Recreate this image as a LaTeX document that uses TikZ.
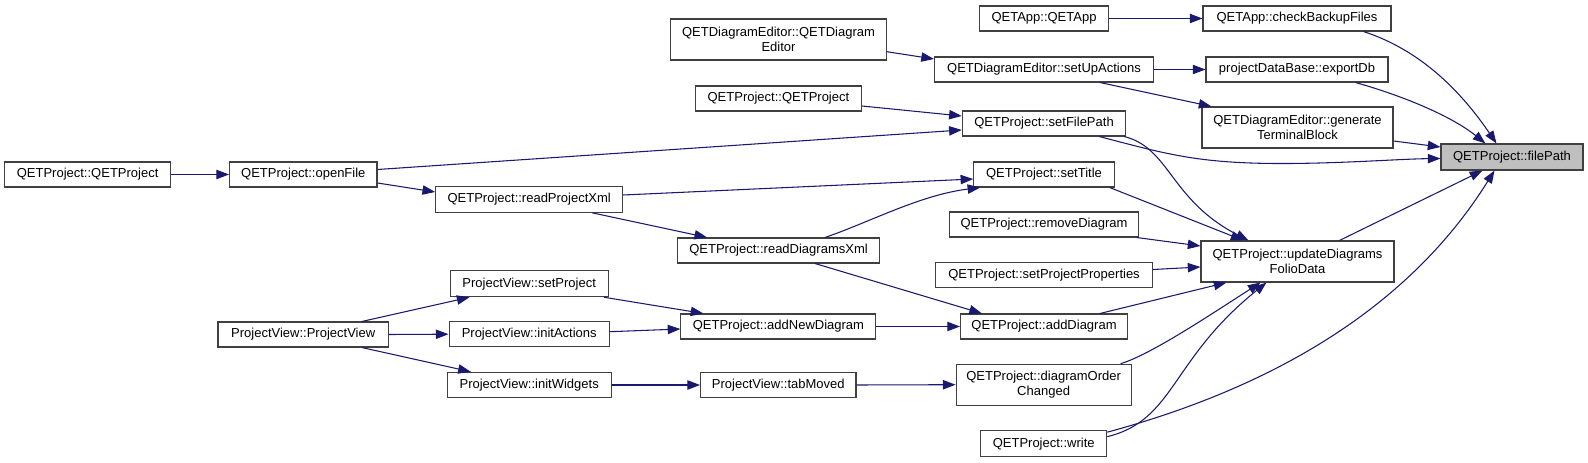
\documentclass[tikz,border=0pt]{standalone}
\usepackage{fontspec}
\setmainfont{Liberation Sans}
\usetikzlibrary{arrows.meta}
\definecolor{edgec}{HTML}{191970}
\definecolor{boxc}{HTML}{404040}
\definecolor{hlfill}{HTML}{BFBFBF}
\begin{document}
\begin{tikzpicture}[x=0.75pt,y=-0.75pt,
  box/.style={draw=boxc, line width=0.8pt, fill=white, inner sep=0pt, text=black,
    font=\fontsize{9.75}{11.5}\selectfont, align=center},
  wh/.style 2 args={minimum width=#1*0.75pt, minimum height=#2*0.75pt},
  edge/.style={draw=edgec, line width=0.8pt, -{Triangle[length=9.5pt,width=7pt]}},
]
\useasboundingbox (0,0) rectangle (1588,463);
% rank 0
\node[box, wh={142}{26}, fill=hlfill] (fp) at (1512,157) {QETProject::filePath};
% rank 1
\node[box, wh={188}{25}] (cbf) at (1297,18.5) {QETApp::checkBackupFiles};
\node[box, wh={182}{25}] (edb) at (1297,69.5) {projectDataBase::exportDb};
\node[box, wh={191}{41}] (gtb) at (1297.5,127.5) {QETDiagramEditor::generate\\TerminalBlock};
\node[box, wh={193}{41}] (udf) at (1297.5,261.5) {QETProject::updateDiagrams\\FolioData};
% rank 2
\node[box, wh={128.6}{25}] (qapp) at (1044,18.5) {QETApp::QETApp};
\node[box, wh={219}{25}] (sua) at (1044,69.5) {QETDiagramEditor::setUpActions};
\node[box, wh={163.4}{25}] (sfp) at (1044,123.5) {QETProject::setFilePath};
\node[box, wh={140.4}{25}] (stt) at (1044,174.5) {QETProject::setTitle};
\node[box, wh={188.3}{25}] (rmd) at (1044,224.5) {QETProject::removeDiagram};
\node[box, wh={217}{25.5}] (spp) at (1044,275) {QETProject::setProjectProperties};
\node[box, wh={167}{25}] (add) at (1044,326.5) {QETProject::addDiagram};
\node[box, wh={175}{41}] (doc) at (1043.6,384.7) {QETProject::diagramOrder\\Changed};
\node[box, wh={126}{26}] (wr) at (1043.7,443.7) {QETProject::write};
% rank 3
\node[box, wh={215.5}{41}] (qde) at (778.5,39.5) {QETDiagramEditor::QETDiagram\\Editor};
\node[box, wh={166}{25}] (qp2) at (778.4,98.5) {QETProject::QETProject};
\node[box, wh={201.7}{25}] (rdx) at (778.5,250.5) {QETProject::readDiagramsXml};
\node[box, wh={195}{25}] (anw) at (778.4,326.5) {QETProject::addNewDiagram};
\node[box, wh={155.4}{25}] (tbm) at (778.3,385) {ProjectView::tabMoved};
% rank 4
\node[box, wh={187}{25.6}] (rpx) at (529.2,199.5) {QETProject::readProjectXml};
\node[box, wh={158.3}{26}] (spj) at (529.2,283.7) {ProjectView::setProject};
\node[box, wh={160.3}{25}] (ina) at (529.2,334.2) {ProjectView::initActions};
\node[box, wh={163.7}{25.4}] (inw) at (529.2,385) {ProjectView::initWidgets};
% rank 5
\node[box, wh={147.4}{25}] (opf) at (303.3,174.5) {QETProject::openFile};
\node[box, wh={170.4}{25}] (pvw) at (303.2,334.5) {ProjectView::ProjectView};
% rank 6
\node[box, wh={166}{25}] (qp1) at (87.6,174.5) {QETProject::QETProject};

% edges
\draw[edge] (qp1.east) -- (opf.west);
\draw[edge] ([shift={(0,-5)}]opf.east) -- ([shift={(0,6.5)}]sfp.west);
\draw[edge] ([shift={(0,8.5)}]opf.east) -- ([shift={(0,-7.5)}]rpx.west);
\draw[edge] ([shift={(0,-4.5)}]rpx.east) -- ([shift={(0,4.5)}]stt.west);
\draw[edge] ([shift={(-31,0)}]rpx.south east) -- ([shift={(30,0)}]rdx.north west);
\draw[edge] ([shift={(148,0)}]rdx.north west) .. controls (870,222) and (920,195) .. ([shift={(7,0)}]stt.south west);
\draw[edge] ([shift={(0,12.2)}]qde.east) -- ([shift={(0,-10.5)}]sua.west);
\draw[edge] ([shift={(0,7.5)}]qp2.east) -- ([shift={(0,-7.5)}]sfp.west);
\draw[edge] (sua.east) -- (edb.west);
\draw[edge] ([shift={(-54,0)}]sua.south east) -- ([shift={(10,0)}]gtb.north west);
\draw[edge] (qapp.east) -- (cbf.west);
\draw[edge] ([shift={(-28,0)}]cbf.south east) .. controls (1420,50) and (1460,90) .. ([shift={(56,0)}]fp.north west);
\draw[edge] ([shift={(-33,0)}]edb.south east) .. controls (1400,95) and (1450,115) .. ([shift={(45,0)}]fp.north west);
\draw[edge] ([shift={(0,13.5)}]gtb.east) -- ([shift={(0,-10)}]fp.west);
\draw[edge] ([shift={(-27,0)}]sfp.south east) .. controls (1170,155) and (1200,164) .. (1290,163.5) .. controls (1350,163) and (1400,159) .. ([shift={(0,1.5)}]fp.west);
\draw[edge] ([shift={(-2,0)}]sfp.south east) .. controls (1170,148) and (1170,200) .. ([shift={(48,0)}]udf.north west);
\draw[edge] ([shift={(-5,0)}]stt.south east) -- ([shift={(43,0)}]udf.north west);
\draw[edge] ([shift={(-2,0)}]rmd.south east) -- ([shift={(0,-15.5)}]udf.west);
\draw[edge] ([shift={(0,-5.5)}]spp.east) -- ([shift={(0,5.5)}]udf.west);
\draw[edge] ([shift={(-28,0)}]add.north east) -- ([shift={(26,0)}]udf.south west);
\draw[edge] ([shift={(-11,0)}]doc.north east) .. controls (1150,355) and (1210,315) .. ([shift={(60,0)}]udf.south west);
\draw[edge] ([shift={(0,-7)}]wr.east) .. controls (1175,420) and (1170,360) .. ([shift={(66,0)}]udf.south west);
\draw[edge] ([shift={(0,-11.5)}]wr.east) .. controls (1300,380) and (1420,290) .. ([shift={(54,0)}]fp.south west);
\draw[edge] ([shift={(139,0)}]udf.north west) -- ([shift={(42,0)}]fp.south west);
\draw[edge] ([shift={(138,0)}]rdx.south west) -- ([shift={(22,0)}]add.north west);
\draw[edge] (anw.east) -- (add.west);
\draw[edge] ([shift={(-5,0)}]spj.south east) -- ([shift={(23,0)}]anw.north west);
\draw[edge] ([shift={(0,-2.5)}]ina.east) -- ([shift={(0,2.5)}]anw.west);
\draw[edge] (inw.east) -- (tbm.west);
\draw[edge] (tbm.east) -- (doc.west);
\draw[edge] ([shift={(-27,0)}]pvw.north east) -- ([shift={(20,0)}]spj.south west);
\draw[edge] (pvw.east) -- (ina.west);
\draw[edge] ([shift={(-27,0)}]pvw.south east) -- ([shift={(24,0)}]inw.north west);
\end{tikzpicture}
\end{document}
